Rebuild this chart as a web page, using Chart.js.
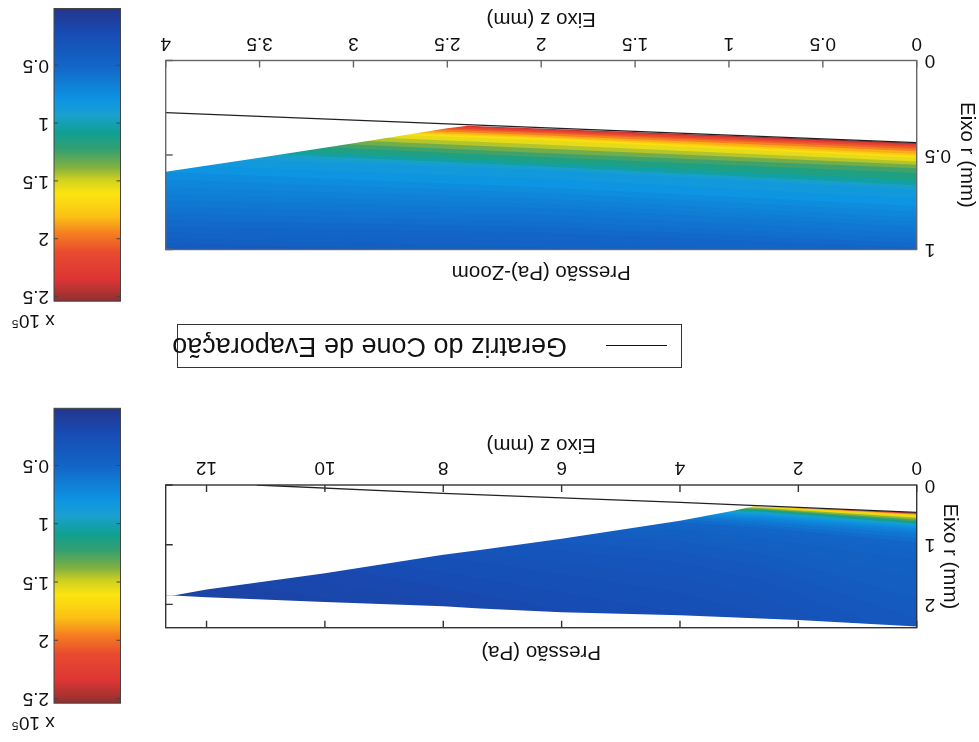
<!DOCTYPE html>
<html>
<head>
<meta charset="utf-8">
<title>Pressão no cone de evaporação</title>
<script src="https://cdn.jsdelivr.net/npm/chart.js@4"></script>
<style>
  html, body { margin: 0; background: #fff; overflow: hidden; }
  /* the scanned sheet is upside down, everything is laid out upright and then turned */
  #sheet { position: absolute; left: 0; top: 0; width: 979px; height: 742px; transform: rotate(180deg); filter: blur(0.6px); }
  #sheet canvas { position: absolute; }
  #legend { position: absolute; left: 297px; top: 374px; width: 503px; height: 42px; border: 1px solid #333; font: 27px "Liberation Sans", sans-serif; color: #111; white-space: nowrap; }
  #legend i { position: absolute; left: 14px; top: 21px; width: 61px; border-top: 1.5px solid #111; }
  #legend span { position: absolute; left: 114px; top: 5px; }
</style>
</head>
<body>
<div id="sheet">
  <canvas id="fullChart" width="876" height="250" style="left:0;top:65px"></canvas>
  <canvas id="fullBar" width="116" height="339" style="left:852px;top:3px"></canvas>
  <div id="legend"><i></i><span id="legendText"></span></div>
  <canvas id="zoomChart" width="876" height="297" style="left:0;top:445px"></canvas>
  <canvas id="zoomBar" width="116" height="337" style="left:852px;top:405px"></canvas>
</div>
<script>
// Titles
const legendLabel = 'Geratriz do Cone de Evaporação';
const zLabel = 'Eixo z (mm)';
const rLabel = 'Eixo r (mm)';
const fullTitle = 'Pressão (Pa)';
const zoomTitle = 'Pressão (Pa)-Zoom';
const barTitle = 'x 10⁵';

// Tick labels
const fullZTicks = [0, 2, 4, 6, 8, 10, 12];
const fullRTicks = [0, 1, 2];
const zoomZTicks = [0, 0.5, 1, 1.5, 2, 2.5, 3, 3.5, 4];
const zoomRTicks = [0, 0.5, 1];
const barTicks = [0.5, 1, 1.5, 2, 2.5];

// Colorbar: pressure (x 10^5 Pa) and colour
const barRange = [0.01, 2.54];
const cmapP = [0.01, 0.23, 0.51, 0.80, 0.93, 1.09, 1.23, 1.38, 1.49, 1.61, 1.81, 1.95, 2.12, 2.35, 2.54];
const cmapC = ['#24368e', '#174cb4', '#1266c8', '#0d95e2', '#1aa0d0', '#10a090', '#35a070', '#80b040', '#d0d020', '#fce510', '#fbc015', '#f58020', '#e84a2f', '#dd3535', '#8f3030'];

// Zoom panel: r of each isobar at z = 0, 2 and 4 mm
const zoomPressure = [2.5, 2.3, 2.15, 2.05, 1.95, 1.85, 1.75, 1.65, 1.55, 1.45, 1.35, 1.25, 1.15, 1.05, 0.95, 0.9, 0.85, 0.8, 0.75, 0.71, 0.68, 0.65, 0.62, 0.59, 0.56, 0.53, 0.5, 0.465, 0.43, 0.395, 0.36];
const zoomZ = [0, 2, 4];
const zoomR0 = [0.435, 0.442, 0.45, 0.458, 0.468, 0.48, 0.495, 0.505, 0.515, 0.535, 0.552, 0.57, 0.595, 0.632, 0.66, 0.672, 0.685, 0.73, 0.77, 0.80, 0.83, 0.855, 0.88, 0.91, 0.94, 0.965, 0.99, 1.035, 1.08, 1.115, 1.15];
const zoomR2 = [0.355, 0.362, 0.37, 0.378, 0.385, 0.395, 0.405, 0.412, 0.42, 0.445, 0.465, 0.49, 0.51, 0.54, 0.56, 0.57, 0.58, 0.625, 0.67, 0.70, 0.73, 0.755, 0.78, 0.815, 0.85, 0.88, 0.91, 0.95, 0.99, 1.02, 1.05];
const zoomR4 = [0.275, 0.28, 0.29, 0.30, 0.31, 0.32, 0.33, 0.34, 0.35, 0.36, 0.38, 0.40, 0.42, 0.45, 0.47, 0.49, 0.51, 0.55, 0.59, 0.63, 0.67, 0.705, 0.74, 0.775, 0.81, 0.845, 0.88, 0.91, 0.94, 0.965, 0.99];
// Zoom panel: edge of the evaporation wedge and the cone line
const zoomMaskZ = [0, 2.39, 2.5, 3, 3.5, 4];
const zoomMaskR = [0.435, 0.345, 0.359, 0.438, 0.514, 0.588];
const zoomLineZ = [0, 4];
const zoomLineR = [0.435, 0.276];

// Full panel: r of each isobar at z = 0, 2.6, 4, 7 and 13 mm
const fullPressure = [2.5, 2.2, 1.9, 1.7, 1.55, 1.4, 1.25, 1.1, 0.95, 0.87, 0.8, 0.75, 0.7, 0.65, 0.6, 0.55, 0.5, 0.47, 0.44, 0.41, 0.38, 0.35, 0.32, 0.29, 0.26, 0.23, 0.2, 0.175, 0.15];
const fullZ = [0, 2.6, 4, 7, 13];
const fullR0 = [0.46, 0.47, 0.485, 0.50, 0.52, 0.55, 0.58, 0.61, 0.65, 0.67, 0.69, 0.715, 0.74, 0.78, 0.82, 0.89, 0.96, 1.1, 1.25, 1.55, 1.9, 2.25, 2.6, 2.8, 3, 3.1, 3.2, 3.3, 3.4];
const fullR26 = [0.34, 0.345, 0.35, 0.36, 0.37, 0.385, 0.40, 0.42, 0.45, 0.475, 0.50, 0.525, 0.55, 0.585, 0.62, 0.67, 0.72, 0.81, 0.90, 1.02, 1.15, 1.37, 1.6, 1.9, 2.2, 2.6, 3, 3.2, 3.4];
const fullR4 = [0.29, 0.30, 0.31, 0.32, 0.33, 0.34, 0.35, 0.37, 0.40, 0.42, 0.44, 0.46, 0.48, 0.505, 0.53, 0.575, 0.62, 0.685, 0.75, 0.85, 0.95, 1.12, 1.3, 1.55, 1.8, 2.15, 2.5, 2.85, 3.2];
const fullR7 = [0.2, 0.2, 0.2, 0.2, 0.2, 0.22, 0.24, 0.26, 0.28, 0.29, 0.3, 0.325, 0.35, 0.375, 0.4, 0.45, 0.5, 0.55, 0.6, 0.675, 0.75, 0.875, 1.0, 1.175, 1.35, 1.625, 1.9, 2.15, 2.4];
const fullR13 = [0, 0, 0, 0, 0, 0, 0, 0, 0, 0, 0, 0, 0, 0, 0, 0, 0, 0.05, 0.1, 0.15, 0.2, 0.25, 0.3, 0.4, 0.5, 0.65, 0.8, 1.1, 1.4];
// Full panel: edges of the jet and the cone line
const fullMaskZ = [0, 2.75, 3.1, 4, 6, 7.38, 8, 10, 12, 12.56, 12.69];
const fullMaskR = [0.46, 0.355, 0.43, 0.6, 0.90, 1.09, 1.17, 1.48, 1.75, 1.85, 1.85];
const fullEdgeZ = [0, 2, 4, 6, 7.38, 8, 10, 12, 12.56, 12.69];
const fullEdgeR = [2.37, 2.26, 2.18, 2.13, 2.07, 2.03, 1.96, 1.88, 1.85, 1.85];
const fullLineZ = [0, 4, 8, 11.15];
const fullLineR = [0.46, 0.29, 0.14, 0];

Chart.defaults.font.family = '"Liberation Sans", sans-serif';
Chart.defaults.font.size = 19;
Chart.defaults.color = '#111';
Chart.defaults.animation = false;

document.getElementById('legendText').textContent = legendLabel;

function hexRgb(h) {
  return [1, 3, 5].map(i => parseInt(h.substr(i, 2), 16));
}

// colour of a pressure on the colorbar
function colorOf(p) {
  let i = 0;
  while (i < cmapP.length - 2 && p > cmapP[i + 1]) i++;
  const t = Math.min(1, Math.max(0, (p - cmapP[i]) / (cmapP[i + 1] - cmapP[i])));
  const a = hexRgb(cmapC[i]), b = hexRgb(cmapC[i + 1]);
  return 'rgb(' + a.map((v, k) => Math.round(v + (b[k] - v) * t)).join(',') + ')';
}

function points(zs, rs) {
  return zs.map((z, i) => ({ x: z, y: rs[i] }));
}

// frame and inward ticks, which sit on top of the white masks
const framePlugin = {
  id: 'frame',
  afterDatasetsDraw(chart, args, opts) {
    const { ctx, chartArea: a, scales } = chart;
    const len = opts.len;
    ctx.save();
    ctx.strokeStyle = opts.color;
    ctx.lineWidth = opts.width;
    ctx.strokeRect(a.left, a.top, a.right - a.left, a.bottom - a.top);
    ctx.beginPath();
    opts.xEdges.forEach(edge => {
      scales.x.ticks.forEach(t => {
        const px = scales.x.getPixelForValue(t.value);
        const y0 = edge === 'top' ? a.top : a.bottom;
        ctx.moveTo(px, y0);
        ctx.lineTo(px, edge === 'top' ? y0 + len : y0 - len);
      });
    });
    opts.yEdges.forEach(edge => {
      scales.y.ticks.forEach(t => {
        const py = scales.y.getPixelForValue(t.value);
        const x0 = edge === 'left' ? a.left : a.right;
        ctx.moveTo(x0, py);
        ctx.lineTo(edge === 'left' ? x0 + len : x0 - len, py);
      });
    });
    ctx.stroke();
    ctx.restore();
  }
};

function panel(id, cfg) {
  const isobars = cfg.pressure.map((p, i) => ({
    data: points(cfg.z, cfg.columns.map(c => c[i])),
    fill: 'end',
    backgroundColor: colorOf(p),
    borderWidth: 0,
    pointRadius: 0,
    order: 100 - i
  }));
  const masks = cfg.masks.map(m => ({
    data: points(m.z, m.r),
    fill: m.fill,
    backgroundColor: '#fff',
    borderWidth: 0,
    pointRadius: 0,
    order: 2
  }));
  const line = {
    label: legendLabel,
    data: points(cfg.lineZ, cfg.lineR),
    fill: false,
    borderColor: '#222',
    borderWidth: 1.3,
    pointRadius: 0,
    order: 1
  };
  return new Chart(document.getElementById(id), {
    type: 'line',
    data: { datasets: [line].concat(masks, isobars) },
    options: {
      responsive: false,
      layout: { padding: { right: cfg.right } },
      plugins: {
        legend: { display: false },
        tooltip: { enabled: false },
        title: {
          display: true,
          fullSize: false,
          text: cfg.title,
          font: { size: 20.5, weight: 'normal' },
          color: '#111',
          padding: cfg.titlePad
        },
        frame: { color: cfg.frameColor, width: 1.4, len: 7, xEdges: cfg.xEdges, yEdges: ['right'] }
      },
      scales: {
        x: {
          type: 'linear',
          min: 0,
          max: cfg.zMax,
          grid: { display: false, drawTicks: false },
          border: { display: false },
          title: { display: true, text: zLabel, font: { size: 20.5 }, color: '#111', padding: { top: 0, bottom: cfg.xTitlePad } },
          ticks: { padding: 6, autoSkip: false, maxRotation: 0, callback: v => String(v) },
          afterBuildTicks: s => { s.ticks = cfg.zTicks.map(v => ({ value: v })); },
          afterFit: s => { s.height = cfg.xHeight; }
        },
        y: {
          type: 'linear',
          min: 0,
          max: cfg.rMax,
          grid: { display: false, drawTicks: false },
          border: { display: false },
          title: { display: true, text: rLabel, font: { size: 20.5 }, color: '#111', padding: { top: cfg.yTitlePad, bottom: 0 } },
          ticks: { padding: 8, autoSkip: false, callback: v => String(v) },
          afterBuildTicks: s => { s.ticks = cfg.rTicks.map(v => ({ value: v })); },
          afterFit: s => { s.width = 62.3; }
        }
      }
    },
    plugins: [framePlugin]
  });
}

function colorbar(id, titlePad, bottom) {
  return new Chart(document.getElementById(id), {
    type: 'bar',
    data: {
      labels: [''],
      datasets: [{
        data: [barRange],
        barPercentage: 1,
        categoryPercentage: 1,
        backgroundColor: ctx => {
          const chart = ctx.chart;
          if (!chart.chartArea) return '#fff';
          const y = chart.scales.y;
          const g = chart.ctx.createLinearGradient(0, y.getPixelForValue(barRange[0]), 0, y.getPixelForValue(barRange[1]));
          cmapP.forEach((p, i) => g.addColorStop((p - barRange[0]) / (barRange[1] - barRange[0]), cmapC[i]));
          return g;
        }
      }]
    },
    options: {
      responsive: false,
      layout: { padding: { left: 6.5, bottom: bottom } },
      plugins: {
        legend: { display: false },
        tooltip: { enabled: false },
        title: { display: true, text: barTitle, align: 'end', font: { size: 19, weight: 'normal' }, color: '#111', padding: titlePad },
        frame: { color: '#444', width: 1, len: 4, xEdges: [], yEdges: ['left', 'right'] }
      },
      scales: {
        x: { display: false },
        y: {
          position: 'right',
          min: barRange[0],
          max: barRange[1],
          grid: { display: false, drawTicks: false },
          border: { display: false },
          ticks: { padding: 5, autoSkip: false, callback: v => String(v) },
          afterBuildTicks: s => { s.ticks = barTicks.map(v => ({ value: v })); },
          afterFit: s => { s.width = 43; s.paddingTop = 0; s.paddingBottom = 0; }
        }
      }
    },
    plugins: [framePlugin]
  });
}

panel('fullChart', {
  title: fullTitle,
  titlePad: { top: 12.7, bottom: 12 },
  pressure: fullPressure,
  z: fullZ,
  columns: [fullR0, fullR26, fullR4, fullR7, fullR13],
  masks: [
    { z: fullMaskZ, r: fullMaskR, fill: 'start' },
    { z: fullEdgeZ, r: fullEdgeR, fill: 'end' }
  ],
  lineZ: fullLineZ,
  lineR: fullLineR,
  zMax: 12.69,
  rMax: 2.39,
  zTicks: fullZTicks,
  rTicks: fullRTicks,
  xHeight: 58,
  xTitlePad: 5,
  yTitlePad: 17,
  right: 62.7,
  frameColor: '#333',
  xEdges: ['bottom', 'top']
});

panel('zoomChart', {
  title: zoomTitle,
  titlePad: { top: 12.7, bottom: 10.2 },
  pressure: zoomPressure,
  z: zoomZ,
  columns: [zoomR0, zoomR2, zoomR4],
  masks: [{ z: zoomMaskZ, r: zoomMaskR, fill: 'start' }],
  lineZ: zoomLineZ,
  lineR: zoomLineR,
  zMax: 4,
  rMax: 1,
  zTicks: zoomZTicks,
  rTicks: zoomRTicks,
  xHeight: 60.5,
  xTitlePad: 6.3,
  yTitlePad: 0,
  right: 62.7,
  frameColor: '#666',
  xEdges: ['bottom']
});

colorbar('fullBar', { top: 5.5, bottom: 7.5 }, 8.3);
colorbar('zoomBar', { top: 5.5, bottom: 7.5 }, 8.5);
</script>
</body>
</html>
